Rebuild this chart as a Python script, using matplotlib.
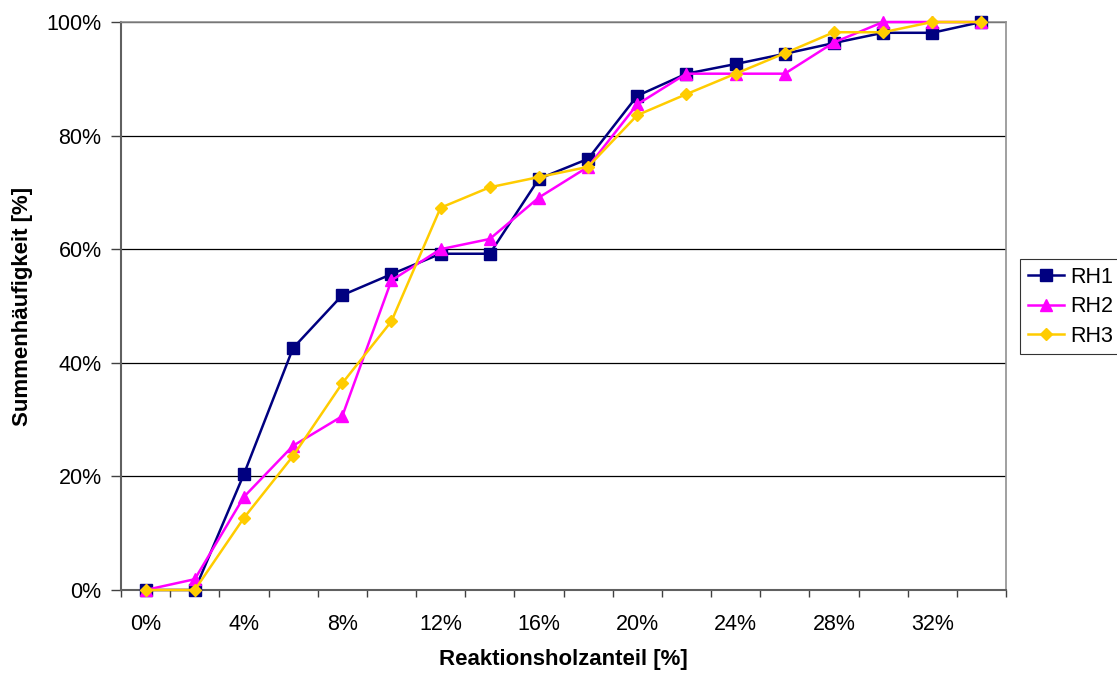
import numpy as np
import matplotlib
matplotlib.use("Agg")
import matplotlib.pyplot as plt
from matplotlib.ticker import FuncFormatter

plt.rcParams["font.family"] = ["Liberation Sans", "DejaVu Sans"]

# Reaction wood share classes (%) and cumulative frequencies (%)
classes = [0, 2, 4, 6, 8, 10, 12, 14, 16, 18, 20, 22, 24, 26, 28, 30, 32, 34]
rh1 = [0, 0, 20.4, 42.6, 51.9, 55.6, 59.2, 59.2, 72.4, 75.9, 87.0, 90.9,
       92.6, 94.4, 96.3, 98.1, 98.1, 100]
rh2 = [0, 1.9, 16.4, 25.4, 30.6, 54.5, 60.0, 61.8, 69.1, 74.5, 85.5, 90.9,
       90.9, 90.9, 96.4, 100, 100, 100]
rh3 = [0, 0, 12.7, 23.6, 36.4, 47.3, 67.3, 70.9, 72.7, 74.5, 83.6, 87.3,
       90.9, 94.5, 98.2, 98.2, 100, 100]

series = [
    ("RH1", rh1, "#000080", "s", 8),
    ("RH2", rh2, "#FF00FF", "^", 9),
    ("RH3", rh3, "#FFCC00", "D", 6.5),
]

fig = plt.figure(figsize=(11.17, 6.73), dpi=100)
ax = fig.add_axes([121 / 1117, 1 - 590 / 673, 885 / 1117, 568 / 673])

x = np.arange(len(classes))
for name, vals, col, mk, ms in series:
    ax.plot(x, vals, color=col, lw=1.8, marker=mk, markersize=ms,
            markerfacecolor=col, markeredgecolor=col, label=name,
            clip_on=False, zorder=3)

ax.set_xlim(-0.5, len(classes) - 0.5)
ax.set_ylim(0, 100)

# category boundaries get tick marks, every second class gets a label
ax.set_xticks(np.arange(-0.5, len(classes), 1))
ax.set_xticklabels([])
ax.set_xticks(x[::2], minor=True)
ax.set_xticklabels([f"{c}%" for c in classes[::2]], minor=True)
ax.tick_params(axis="x", which="major", direction="out", length=5,
               width=1, color="#404040")
ax.tick_params(axis="x", which="minor", length=0, pad=17, labelsize=15.5)

ax.set_yticks(np.arange(0, 101, 20))
ax.yaxis.set_major_formatter(FuncFormatter(lambda v, _: f"{v:.0f}%"))
ax.tick_params(axis="y", direction="out", length=7, width=1,
               color="#404040", pad=7, labelsize=15.5)

ax.grid(axis="y", color="#000000", lw=0.9)
ax.set_axisbelow(True)
for side in ["left", "bottom"]:
    ax.spines[side].set_color("#606060")
    ax.spines[side].set_linewidth(1.5)
for side in ["top", "right"]:
    ax.spines[side].set_color("#909090")
    ax.spines[side].set_linewidth(1.2)

ax.set_xlabel("Reaktionsholzanteil [%]", fontsize=16, fontweight="bold",
              labelpad=10)
ax.set_ylabel("Summenhäufigkeit [%]", fontsize=16, fontweight="bold",
              labelpad=10)

leg = ax.legend(loc="upper left", bbox_to_anchor=(1020 / 1117, 1 - 259 / 673),
                bbox_transform=fig.transFigure, frameon=True, fancybox=False,
                fontsize=15.5, handlelength=1.7, borderpad=0.35,
                labelspacing=0.4, handletextpad=0.3, borderaxespad=0)
leg.get_frame().set_edgecolor("#000000")
leg.get_frame().set_linewidth(0.8)

fig.savefig("out.png", dpi=100)
